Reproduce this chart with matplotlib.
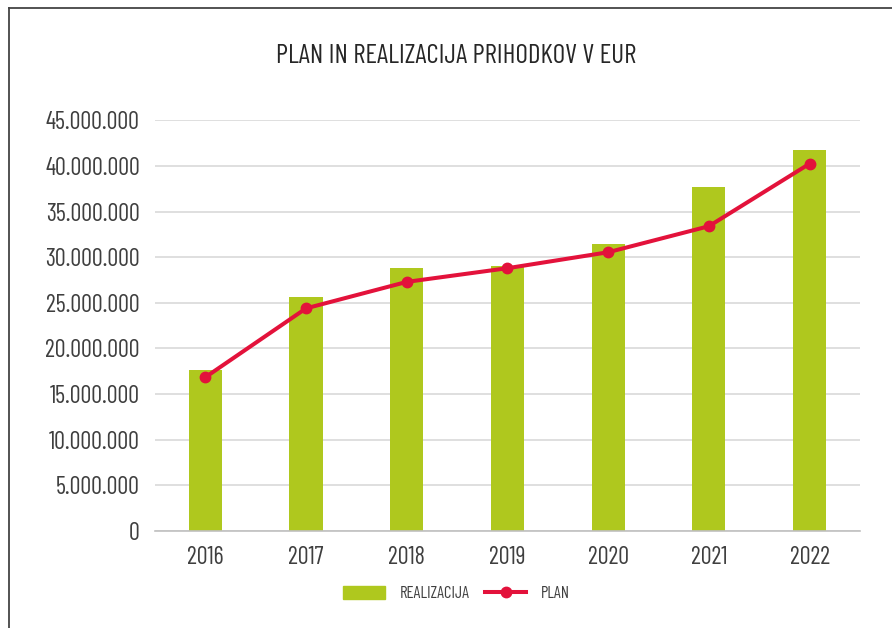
import matplotlib.pyplot as plt
from matplotlib.ticker import FuncFormatter, MultipleLocator
from matplotlib.lines import Line2D

plt.rcParams['font.family'] = ['Barlow Condensed', 'DejaVu Sans']

years = ['2016', '2017', '2018', '2019', '2020', '2021', '2022']
realizacija = [17650000, 25650000, 28850000, 29050000, 31400000, 37700000, 41700000]
plan = [16850000, 24400000, 27300000, 28800000, 30550000, 33400000, 40250000]

green = '#afc81e'
red = '#e3123b'
txt = '#3f3f3f'

fig = plt.figure(figsize=(8.92, 6.28), dpi=100)
ax = fig.add_axes([0.1738, 0.1545, 0.7902, 0.6538])

x = range(len(years))
ax.bar(x, realizacija, width=0.33, color=green, zorder=2, label='REALIZACIJA')
ax.plot(x, plan, color=red, linewidth=2.9, marker='o', markersize=7.5, zorder=3, label='PLAN')

ax.set_xlim(-0.5, 6.5)
ax.set_ylim(0, 45000000)
ax.yaxis.set_major_locator(MultipleLocator(5000000))
ax.yaxis.set_major_formatter(FuncFormatter(lambda v, p: f'{int(v):,}'.replace(',', '.')))
ax.set_xticks(list(x))
ax.set_xticklabels(years)
ax.grid(axis='y', color='#d9d9d9', linewidth=1.2, zorder=0)
ax.set_axisbelow(True)
for s in ['top', 'right', 'left']:
    ax.spines[s].set_visible(False)
ax.spines['bottom'].set_color('#c0c0c0')
ax.spines['bottom'].set_linewidth(1.2)
ax.tick_params(axis='both', length=0, labelsize=17.5, labelcolor=txt)
ax.tick_params(axis='y', pad=11)
ax.tick_params(axis='x', pad=11)

fig.text(0.511, 0.911, 'PLAN IN REALIZACIJA PRIHODKOV V EUR', ha='center', va='center',
         fontsize=19.5, color='#262626')

handles = [plt.Rectangle((0, 0), 1, 1, color=green),
           Line2D([0], [0], color=red, linewidth=2.9, marker='o', markersize=7.5)]
fig.legend(handles, ['REALIZACIJA', 'PLAN'], loc='center', bbox_to_anchor=(0.512, 0.055),
           ncol=2, frameon=False, fontsize=12, labelcolor=txt, handlelength=2.5,
           handleheight=0.9, handletextpad=0.9, columnspacing=0.9)

# frame around the chart (left and top visible)
fig.add_artist(Line2D([9 / 892, 9 / 892], [0, 1 - 8 / 628], color='#444444', linewidth=1.3))
fig.add_artist(Line2D([9 / 892, 1], [1 - 8 / 628, 1 - 8 / 628], color='#444444', linewidth=1.3))

fig.savefig('out.png', dpi=100)
